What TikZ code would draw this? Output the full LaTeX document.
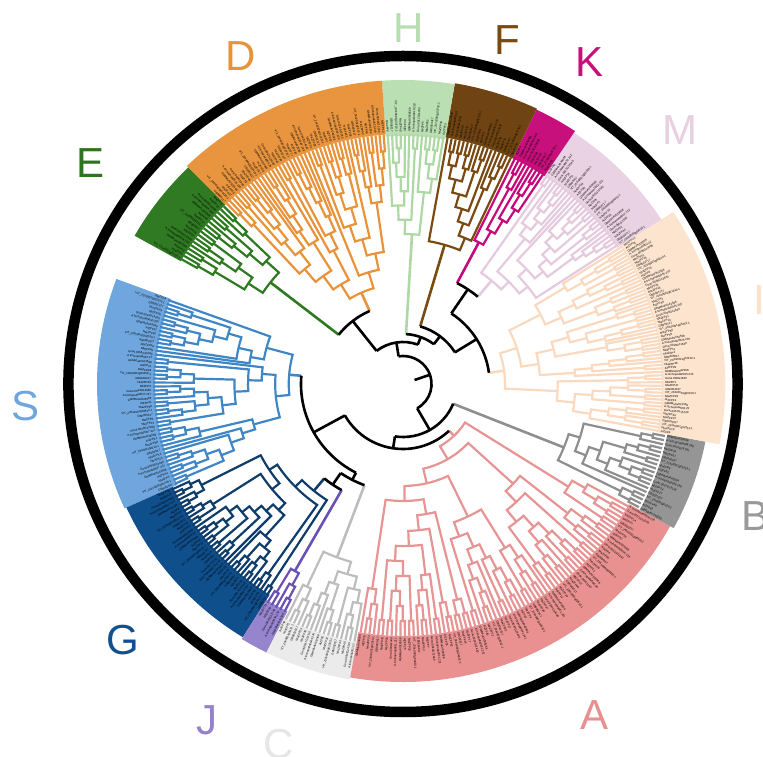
\documentclass[tikz,border=0pt]{standalone}
\usepackage{fontspec}
\setmainfont{Liberation Sans}
\definecolor{brS}{HTML}{3F86C6}\definecolor{bdS}{HTML}{6FA6DE}
\definecolor{brG}{HTML}{0F3D6B}\definecolor{bdG}{HTML}{0F4F8C}
\definecolor{brJ}{HTML}{6A52B4}\definecolor{bdJ}{HTML}{9784CE}
\definecolor{brC}{HTML}{BDBDBD}\definecolor{bdC}{HTML}{EBEBEB}
\definecolor{brA}{HTML}{E69494}\definecolor{bdA}{HTML}{E99090}
\definecolor{brB}{HTML}{8E8E8E}\definecolor{bdB}{HTML}{959595}
\definecolor{brI}{HTML}{FAD9BE}\definecolor{bdI}{HTML}{FDE4CF}
\definecolor{brM}{HTML}{E5C9DD}\definecolor{bdM}{HTML}{E9D2E3}
\definecolor{brK}{HTML}{C6087A}\definecolor{bdK}{HTML}{C8107D}
\definecolor{brF}{HTML}{7A4A12}\definecolor{bdF}{HTML}{6F4412}
\definecolor{brH}{HTML}{ADD8A3}\definecolor{bdH}{HTML}{BADFB2}
\definecolor{brD}{HTML}{E8923A}\definecolor{bdD}{HTML}{E9953F}
\definecolor{brE}{HTML}{2E7A20}\definecolor{bdE}{HTML}{2F7A22}
\definecolor{ltD}{HTML}{E8923A}\definecolor{ltH}{HTML}{B8DDB0}
\definecolor{ltF}{HTML}{7A4A10}\definecolor{ltK}{HTML}{C8107A}
\definecolor{ltM}{HTML}{E8D0E0}\definecolor{ltI}{HTML}{FCE0C8}
\definecolor{ltB}{HTML}{999999}\definecolor{ltA}{HTML}{E89090}
\definecolor{ltC}{HTML}{E6E6E6}\definecolor{ltJ}{HTML}{9682CC}
\definecolor{ltG}{HTML}{0F508E}\definecolor{ltS}{HTML}{6FA6DE}
\definecolor{ltE}{HTML}{2E7320}
% ---------- tree building (random cladogram) ----------
\newcommand\tbuild[2]{%
 \begingroup
 \edef\myI{\number#1}\edef\myN{\number#2}%
 \ifnum\myN=1\relax
   \pgfmathsetmacro\tmpa{\cAo+(\myI-\cIo+0.5)*\cDel}%
   \expandafter\xdef\csname th-\myI-\myN\endcsname{0}%
   \expandafter\xdef\csname ta-\myI-\myN\endcsname{\tmpa}%
 \else
   \pgfmathrandominteger\spk{1}{\myN-1}%
   \expandafter\xdef\csname ts-\myI-\myN\endcsname{\spk}%
   \edef\iL{\myI}\edef\nL{\spk}%
   \edef\iR{\the\numexpr\myI+\spk\relax}\edef\nR{\the\numexpr\myN-\spk\relax}%
   \tbuild{\iL}{\nL}\tbuild{\iR}{\nR}%
   \pgfmathtruncatemacro\tmph{1+max(\csname th-\iL-\nL\endcsname,\csname th-\iR-\nR\endcsname)}%
   \pgfmathsetmacro\tmpang{(\csname ta-\iL-\nL\endcsname+\csname ta-\iR-\nR\endcsname)/2}%
   \expandafter\xdef\csname th-\myI-\myN\endcsname{\tmph}%
   \expandafter\xdef\csname ta-\myI-\myN\endcsname{\tmpang}%
 \fi
 \endgroup}
\newcommand\tdraw[2]{%
 \begingroup
 \edef\myI{\number#1}\edef\myN{\number#2}%
 \ifnum\myN>1\relax
   \edef\spk{\csname ts-\myI-\myN\endcsname}%
   \edef\iL{\myI}\edef\nL{\spk}%
   \edef\iR{\the\numexpr\myI+\spk\relax}\edef\nR{\the\numexpr\myN-\spk\relax}%
   \edef\aL{\csname ta-\iL-\nL\endcsname}%
   \edef\aR{\csname ta-\iR-\nR\endcsname}%
   \pgfmathsetmacro\rN{\cRt-\csname th-\myI-\myN\endcsname*\cStep}%
   \pgfmathsetmacro\rL{\cRt-\csname th-\iL-\nL\endcsname*\cStep}%
   \pgfmathsetmacro\rR{\cRt-\csname th-\iR-\nR\endcsname*\cStep}%
   \draw[br] (\aL:\rL) -- (\aL:\rN) arc[start angle=\aL,end angle=\aR,radius=\rN] -- (\aR:\rR);
   \tdraw{\iL}{\nL}\tdraw{\iR}{\nR}%
 \fi
 \endgroup}
\newcommand\leafname[1]{%
  \pgfmathtruncatemacro\lbm{mod(#1,9)}%
  \pgfmathtruncatemacro\lbn{mod(#1*7,53)+1}%
  \ifcase\lbm AtZFP\lbn\or NtaZFP\lbn\or VIT\_2\lbn s0001g0\lbn 10.1\or GB000\lbn 17\or NtaZFP\lbn\or NbZFP\lbn\or Gorai.00\lbn G1\lbn 40\or A.trichopoda00\lbn.2\lbn\or GbMMuAV0\lbn 568\fi}
\newcommand\setclade[8]{\def\cName{#1}\def\cAo{#2}\def\cAe{#3}\def\cN{#4}\def\cIo{#5}\def\cRt{#6}\def\cRr{#7}\def\cSeed{#8}}
\newcommand\doclade[2]{%
  \pgfmathsetmacro\cDel{(\cAe-\cAo)/\cN}%
  \fill[#2] (\cAo:\cBi) arc[start angle=\cAo,end angle=\cAe,radius=\cBi] -- (\cAe:\cBo) arc[start angle=\cAe,end angle=\cAo,radius=\cBo] -- cycle;
  \foreach \k in {1,...,\cN}{%
    \pgfmathsetmacro\la{\cAo+(\k-0.5)*\cDel}%
    \pgfmathtruncatemacro\gi{\cIo+\k}%
    \pgfmathtruncatemacro\flip{abs(\la)>90}%
    \ifnum\flip=1
      \node[lbl,anchor=east,rotate=\la+180] at ({\la}:{\cRt+2}) {\leafname{\gi}};
    \else
      \node[lbl,anchor=west,rotate=\la] at ({\la}:{\cRt+2}) {\leafname{\gi}};
    \fi}%
  \pgfmathsetseed{\cSeed}%
  \tbuild{\cIo}{\cN}%
  \edef\tmpH{\csname th-\cIo-\cN\endcsname}%
  \pgfmathsetmacro\cStep{(\cRt-\cRr)/\tmpH}%
  \expandafter\xdef\csname ang\cName\endcsname{\csname ta-\cIo-\cN\endcsname}%
  \expandafter\xdef\csname rad\cName\endcsname{\cRr}%
  \expandafter\xdef\csname col\cName\endcsname{#1}%
  \tikzset{br/.style={brline,draw=#1}}%
  \tdraw{\cIo}{\cN}%
}
\newcommand\bbnode[4]{%
  \edef\bA{\csname ang#3\endcsname}\edef\bB{\csname ang#4\endcsname}%
  \edef\rA{\csname rad#3\endcsname}\edef\rB{\csname rad#4\endcsname}%
  \edef\kA{\csname col#3\endcsname}\edef\kB{\csname col#4\endcsname}%
  \pgfmathsetmacro\tmpa{(\bA+\bB)/2}%
  \expandafter\xdef\csname ang#1\endcsname{\tmpa}%
  \expandafter\xdef\csname rad#1\endcsname{#2}%
  \expandafter\xdef\csname col#1\endcsname{black}%
  \draw[bbl,draw=\kA] (\bA:#2) -- (\bA:\rA);
  \draw[bbl,draw=\kB] (\bB:#2) -- (\bB:\rB);
  \draw[bbl] (\bA:#2) arc[start angle=\bA,end angle=\bB,radius=#2];
}
\begin{document}
\begin{tikzpicture}[x=1pt,y=1pt,
  brline/.style={line width=2.2pt,line join=miter},
  bbl/.style={line width=2.6pt,draw=black},
  lbl/.style={font=\fontsize{2.9}{3.2}\selectfont,inner sep=0pt,text=black},
  big/.style={font=\fontsize{42}{42}\selectfont,inner sep=0pt}]
\useasboundingbox (-403,-373) rectangle (360,384);
\begin{scope}[xscale=1.02]
\def\cBi{243}\def\cBo{300}\setclade{S}{-200.5}{-155.5}{48}{0}{245}{112}{11}\doclade{brS}{bdS}
\def\cBi{248}\def\cBo{298}\setclade{G}{-155.5}{-121.8}{36}{48}{250}{138}{23}\doclade{brG}{bdG}
\def\cBi{254}\def\cBo{300}\setclade{J}{-121.8}{-116.5}{5}{84}{256}{215}{5}\doclade{brJ}{bdJ}
\def\cBi{262}\def\cBo{300}\setclade{C}{-116.5}{-100}{17}{89}{262}{185}{7}\doclade{brC}{bdC}
\def\cBi{252}\def\cBo{298}\setclade{A}{-100}{-28.5}{72}{106}{252}{72}{31}\doclade{brA}{bdA}
\def\cBi{264}\def\cBo{302}\setclade{B}{-28.5}{-11}{19}{178}{262}{170}{17}\doclade{brB}{bdB}
\def\cBi{254}\def\cBo{316}\setclade{I}{-11}{33}{56}{197}{255}{100}{41}\doclade{brI}{bdI}
\def\cBi{250}\def\cBo{302}\setclade{M}{33}{56.3}{26}{253}{252}{135}{13}\doclade{brM}{bdM}
\def\cBi{250}\def\cBo{304}\setclade{K}{56.3}{64.5}{9}{279}{252}{160}{3}\doclade{brK}{bdK}
\def\cBi{250}\def\cBo{305}\setclade{F}{64.5}{80.4}{17}{288}{250}{145}{19}\doclade{brF}{bdF}
\def\cBi{248}\def\cBo{304}\setclade{H}{80.4}{93.9}{14}{305}{250}{150}{29}\doclade{brH}{bdH}
\def\cBi{250}\def\cBo{304}\setclade{D}{93.9}{134.2}{44}{319}{250}{100}{37}\doclade{brD}{bdD}
\def\cBi{250}\def\cBo{302}\setclade{E}{134.2}{150.6}{17}{363}{250}{165}{43}\doclade{brE}{bdE}
% backbone
\bbnode{KM}{114}{M}{K}
\bbnode{KMI}{85}{I}{KM}
\bbnode{FKMI}{60}{KMI}{F}
\bbnode{HK}{50}{FKMI}{H}
\bbnode{ED}{80}{D}{E}
\bbnode{U}{42}{HK}{ED}
\bbnode{GJ}{122}{G}{J}
\bbnode{Y}{108}{GJ}{C}
\bbnode{LT}{100}{S}{Y}
\bbnode{LS}{65}{LT}{A}
\bbnode{LW}{53}{LS}{B}
\bbnode{RT}{28}{LW}{U}
\draw[bbl] (\angRT:12) -- (\angRT:28);
\draw[line width=10.5pt] (0,0) circle[radius=328];
\end{scope}
\node[big,text=ltD] (labD) at (-162,328) {D};
\node[big,text=ltH] (labH) at (6,356) {H};
\node[big,text=ltF] (labF) at (104,344) {F};
\node[big,text=ltK] (labK) at (187,322) {K};
\node[big,text=ltM] (labM) at (277,254) {M};
\node[big,text=ltI] (labI) at (356,84) {I};
\node[big,text=ltB] (labB) at (353,-132) {B};
\node[big,text=ltA] (labA) at (192,-331) {A};
\node[big,text=ltC] (labC) at (-124,-360) {C};
\node[big,text=ltJ] (labJ) at (-196,-336) {J};
\node[big,text=ltG] (labG) at (-280,-256) {G};
\node[big,text=ltS] (labS) at (-377,-22) {S};
\node[big,text=ltE] (labE) at (-312,221) {E};
\end{tikzpicture}
\end{document}
